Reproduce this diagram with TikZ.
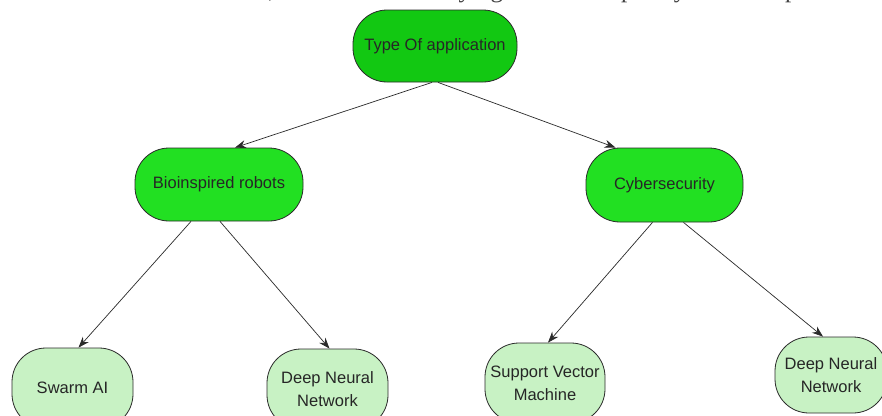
\documentclass[tikz,border=0pt]{standalone}
\usepackage{fontspec}
\setmainfont{Liberation Sans}
\newfontfamily\serifcut{Liberation Serif}
\usetikzlibrary{arrows.meta,calc}
\definecolor{topgreen}{HTML}{12C812}
\definecolor{midgreen}{HTML}{22E022}
\definecolor{leafgreen}{HTML}{C8F2C4}
\definecolor{edgegray}{HTML}{2A2A2A}
\tikzset{
  topbox/.style={draw=edgegray, line width=0.8pt, fill=topgreen, rounded corners=34pt,
    minimum width=164pt, minimum height=72pt, inner sep=0pt, align=center,
    font=\fontsize{16.5}{19}\selectfont, text=black!85},
  midbox/.style={topbox, fill=midgreen},
  leafbox/.style={draw=edgegray, line width=0.8pt, fill=leafgreen, rounded corners=34pt,
    minimum width=121pt, minimum height=80pt, inner sep=0pt, align=center,
    font=\fontsize{16.5}{23}\selectfont, text=black!85},
  arr/.style={draw=edgegray, line width=0.7pt, -{Stealth[length=11pt,width=8pt]}}
}
\begin{document}
\begin{tikzpicture}[x=1pt,y=-1pt]
\useasboundingbox (0,0) rectangle (882,415);
\clip (0,0) rectangle (882,415);
\fill[white] (0,0) rectangle (882,415);
\node[anchor=base west, inner sep=0pt, text=black!75, font=\serifcut\fontsize{25}{28}\selectfont] (cut) at (-6,-2.5)
  {e state and the armies debts, as well as for carrying out contemporary combat operations};
\node[topbox] (top) at (435,46) {Type Of application};
\node[midbox, minimum width=168pt, minimum height=73pt] (bio) at (219,184.5) {Bioinspired robots};
\node[midbox, minimum width=157pt, minimum height=74pt] (cyb) at (664.5,185) {Cybersecurity};
\node[leafbox] (swarm) at (72.5,388) {Swarm AI};
\node[leafbox] (dnnl) at (327.5,389) {Deep Neural\\Network};
\node[leafbox, minimum width=120pt] (svm) at (545,383) {Support Vector\\Machine};
\node[leafbox, minimum width=112pt, minimum height=76pt] (dnnr) at (831,375) {Deep Neural\\Network};
\draw[arr] ([xshift=-3pt]top.south) -- ([xshift=16pt]bio.north);
\draw[arr] ([xshift=3pt]top.south) -- ([xshift=-49pt]cyb.north);
\draw[arr] ([xshift=-28pt]bio.south) -- ([xshift=6pt]swarm.north);
\draw[arr] ([xshift=1pt]bio.south) -- ([xshift=2pt]dnnl.north);
\draw[arr] ([xshift=-12pt]cyb.south) -- ([xshift=3pt]svm.north);
\draw[arr] ([xshift=19pt]cyb.south) -- ([xshift=-8pt]dnnr.north);
\end{tikzpicture}
\end{document}
